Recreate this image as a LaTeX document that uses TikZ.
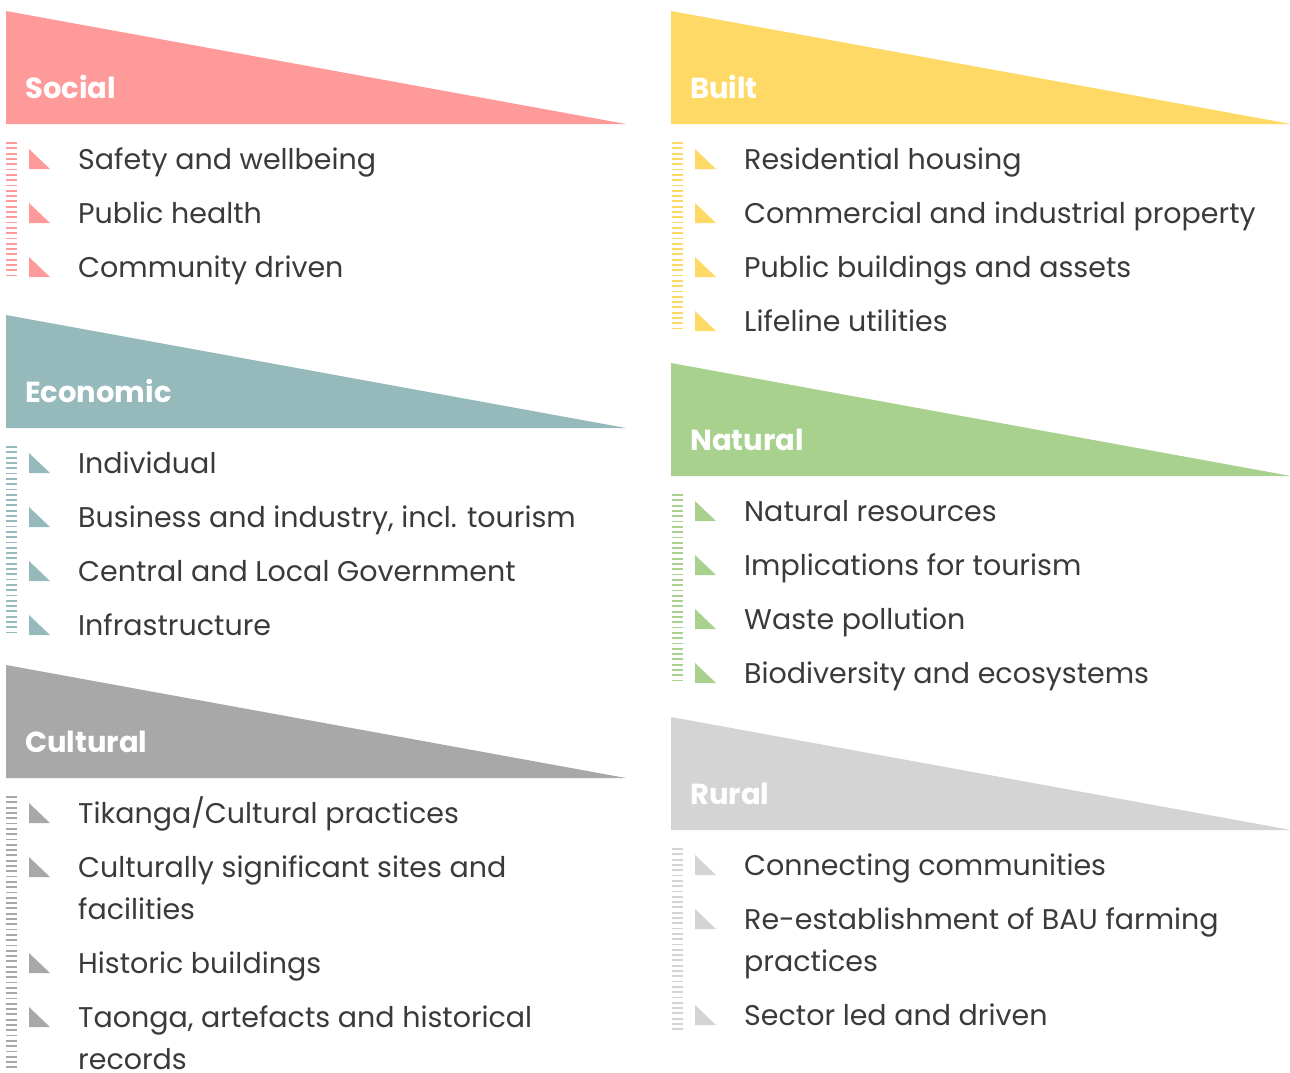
\documentclass[tikz,border=0pt]{standalone}
\usepackage{fontspec}
\setmainfont{Poppins}
\definecolor{csocial}{HTML}{FF9A9A}
\definecolor{cecon}{HTML}{96B9BC}
\definecolor{ccult}{HTML}{A8A8A8}
\definecolor{cbuilt}{HTML}{FFD966}
\definecolor{cnat}{HTML}{A9D18E}
\definecolor{crural}{HTML}{D4D4D4}
\definecolor{ctext}{HTML}{3A3A3A}
\tikzset{
  headlabel/.style={anchor=base west, inner sep=0pt, text=white, font=\fontsize{29}{32}\selectfont\bfseries},
  itemtext/.style={anchor=base west, inner sep=0pt, text=ctext, align=left, font=\fontsize{28.5}{42}\selectfont},
}
% #1 x0, #2 top, #3 colour, #4 label, #5 name
\newcommand\sechead[5]{%
  \fill[#3] (#1,#2) -- (#1,#2+113) -- (#1+620,#2+113) -- cycle;
  \node[headlabel] (#5) at (#1+19,#2+87) {#4};
}
% #1 x0, #2 y top, #3 y bottom, #4 colour
\newcommand\hatchbar[4]{%
  \pgfmathtruncatemacro\nlines{(#3-#2)/5.3}
  \foreach \k in {0,...,\nlines} \draw[#4, line width=1.8pt] (#1,#2+\k*5.3) -- (#1+11,#2+\k*5.3);
}
% #1 x0 of column, #2 yc, #3 colour, #4 text, #5 name
\newcommand\secitem[5]{%
  \fill[#3] (#1+23,#2-10) -- (#1+23,#2+10) -- (#1+44,#2+10) -- cycle;
  \node[itemtext] (#5) at (#1+72,#2+10) {#4};
}
% two-line item: base anchor is the last line
\newcommand\secitemw[5]{%
  \fill[#3] (#1+23,#2-10) -- (#1+23,#2+10) -- (#1+44,#2+10) -- cycle;
  \node[itemtext] (#5) at (#1+72,#2+52) {#4};
}
\begin{document}
\begin{tikzpicture}[x=1pt,y=-1pt]
\useasboundingbox (0,0) rectangle (1290,1072);
% Social
\sechead{6}{11}{csocial}{Social}{social}
\hatchbar{6}{143}{279}{csocial}
\secitem{6}{159}{csocial}{Safety and wellbeing}{s1}
\secitem{6}{213}{csocial}{Public health}{s2}
\secitem{6}{267}{csocial}{Community driven}{s3}
% Economic
\sechead{6}{315}{cecon}{Economic}{economic}
\hatchbar{6}{447}{633}{cecon}
\secitem{6}{463}{cecon}{Individual}{e1}
\secitem{6}{517}{cecon}{Business and industry, incl. tourism}{e2}
\secitem{6}{571}{cecon}{Central and Local Government}{e3}
\secitem{6}{625}{cecon}{Infrastructure}{e4}
% Cultural
\sechead{6}{665}{ccult}{Cultural}{cultural}
\hatchbar{6}{797}{1072}{ccult}
\secitem{6}{813}{ccult}{Tikanga/Cultural practices}{c1}
\secitemw{6}{867}{ccult}{Culturally significant sites and\\facilities}{c2}
\secitem{6}{963}{ccult}{Historic buildings}{c3}
\secitemw{6}{1017}{ccult}{Taonga, artefacts and historical\\records}{c4}
% Built
\sechead{671}{11}{cbuilt}{Built}{built}
\hatchbar{672}{143}{331}{cbuilt}
\secitem{672}{159}{cbuilt}{Residential housing}{b1}
\secitem{672}{213}{cbuilt}{Commercial and industrial property}{b2}
\secitem{672}{267}{cbuilt}{Public buildings and assets}{b3}
\secitem{672}{321}{cbuilt}{Lifeline utilities}{b4}
% Natural
\sechead{671}{363}{cnat}{Natural}{natural}
\hatchbar{672}{495}{681}{cnat}
\secitem{672}{511}{cnat}{Natural resources}{n1}
\secitem{672}{565}{cnat}{Implications for tourism}{n2}
\secitem{672}{619}{cnat}{Waste pollution}{n3}
\secitem{672}{673}{cnat}{Biodiversity and ecosystems}{n4}
% Rural
\sechead{671}{717}{crural}{Rural}{rural}
\hatchbar{672}{849}{1034}{crural}
\secitem{672}{865}{crural}{Connecting communities}{r1}
\secitemw{672}{919}{crural}{Re-establishment of BAU farming\\practices}{r2}
\secitem{672}{1015}{crural}{Sector led and driven}{r3}
\end{tikzpicture}
\end{document}
